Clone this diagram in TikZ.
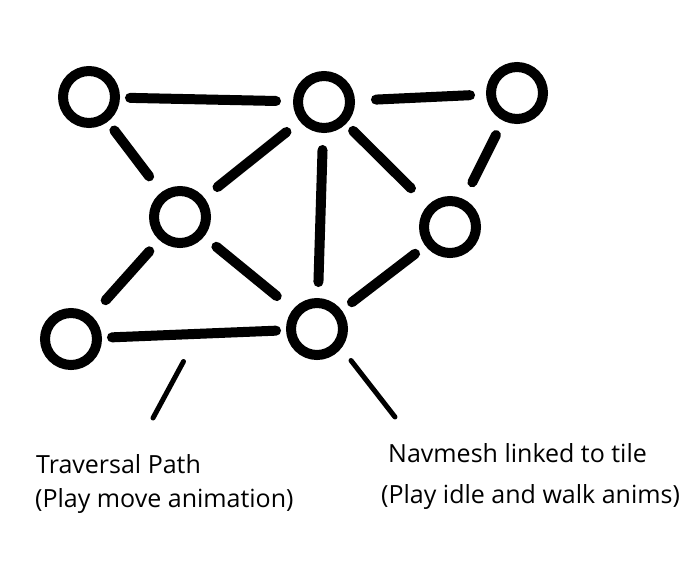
\documentclass[tikz,border=0pt]{standalone}
\usepackage{fontspec}
\setmainfont{Open Sans}
\usepackage{tikz}
\usetikzlibrary{shapes, positioning}

\begin{document}
\begin{tikzpicture}[x=1pt, y=-1pt,
		vertice/.style={circle, draw, line width=10pt, minimum size=52pt, inner sep=0pt},
		aresta/.style={line width=10pt, line cap=round},
		ponteiro/.style={line width=5pt, line cap=round},
		legenda/.style={anchor=base west, inner sep=0pt, font=\fontsize{25}{30}\selectfont}]
				\useasboundingbox (0,0) rectangle (696,562);
				
				%% Vértices da malha
				\node [vertice] (A) at (89,97) {};
				\node [vertice] (B) at (324,102) {};
				\node [vertice] (C) at (517,93) {};
				\node [vertice] (D) at (180,217) {};
				\node [vertice] (E) at (450,227) {};
				\node [vertice] (F) at (71,339) {};
				\node [vertice] (G) at (317,329) {};
				
				%% Arestas
				\draw [aresta, shorten <=10pt, shorten >=17pt] (A)--(B);
				\draw [aresta, shorten <=21pt, shorten >=16pt] (B)--(C);
				\draw [aresta, shorten <=11pt, shorten >=20pt] (A)--(D);
				\draw [aresta, shorten <=17pt, shorten >=17pt] (D)--(B);
				\draw [aresta, shorten <=17pt, shorten >=16pt] (B)--(G);
				\draw [aresta, shorten <=10pt, shorten >=24pt] (B)--(E);
				\draw [aresta, shorten <=16pt, shorten >=19pt] (C)--(E);
				\draw [aresta, shorten <=15pt, shorten >=21pt] (D)--(F);
				\draw [aresta, shorten <=16pt, shorten >=21pt] (D)--(G);
				\draw [aresta, shorten <=13pt, shorten >=13pt] (E)--(G);
				\draw [aresta, shorten <=10pt, shorten >=10pt] (F)--(G);
				
				%% Indicadores
				\coordinate (p1) at (183.5,361.5);
				\coordinate (p2) at (153,418);
				\coordinate (q1) at (351,360.5);
				\coordinate (q2) at (395,417);
				\draw [ponteiro] (p1)--(p2);
				\draw [ponteiro] (q1)--(q2);
				
				%% Legendas
				\node [legenda] (trav) at (36,473) {Traversal Path};
				\node [legenda] (travanim) at (35,507) {(Play move animation)};
				\node [legenda] (nav) at (388,462) {Navmesh linked to tile};
				\node [legenda] (navanim) at (381,503) {(Play idle and walk anims)};
				
			\end{tikzpicture}
\end{document}
